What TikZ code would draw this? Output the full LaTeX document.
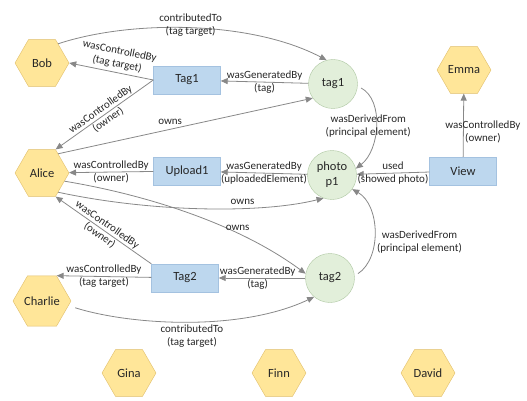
\documentclass[tikz,border=0pt]{standalone}
\usepackage{fontspec}
\setmainfont{Carlito}
\usepackage{xcolor}
\usetikzlibrary{arrows.meta,positioning,shapes.geometric}
\definecolor{agentfill}{HTML}{FFE699}
\definecolor{agentline}{HTML}{E0BE6A}
\definecolor{actfill}{HTML}{BDD7EE}
\definecolor{actline}{HTML}{A4C2E0}
\definecolor{entfill}{HTML}{E2EFDA}
\definecolor{entline}{HTML}{AEC7A2}
\definecolor{edgegray}{HTML}{888888}

\begin{document}
\begin{tikzpicture}[
				x=1pt, y=-1pt,
				agent/.style={regular polygon, regular polygon sides=6, minimum size=54pt,
					inner sep=0pt, fill=agentfill, draw=agentline, text=black!85,
					font=\fontsize{12.5}{15}\selectfont},
				box/.style={rectangle, draw=actline, fill=actfill, minimum width=67pt,
					minimum height=28pt, text=black!85, font=\fontsize{12.5}{15}\selectfont},
				entity/.style={circle, draw=entline, fill=entfill, minimum size=49pt,
					inner sep=0pt, align=center, text=black!85, font=\fontsize{12.5}{15}\selectfont},
				arrow/.style={-{Triangle[length=7pt,width=6pt]}, draw=edgegray, line width=0.8pt},
				lbl/.style={font=\fontsize{11}{13}\selectfont, align=center, text=black!85, inner sep=1pt}
				]
				\useasboundingbox (0,0) rectangle (527,401);
				\node[agent] (bob) at (42,63) {Bob};
				\node[agent] (alice) at (42,173) {Alice};
				\node[agent] (charlie) at (42,301) {Charlie};
				\node[agent] (gina) at (129,373) {Gina};
				\node[agent] (finn) at (279,373) {Finn};
				\node[agent] (david) at (428,373) {David};
				\node[agent] (emma) at (464,70) {Emma};
				\node[box] (tagact1) at (187,80) {Tag1};
				\node[box] (upload1) at (187,171) {Upload1};
				\node[box] (tagact2) at (185,278) {Tag2};
				\node[box] (view) at (463,171) {View};
				\node[entity] (tag1) at (333,84) {tag1};
				\node[entity] (p1) at (332,175) {photo\\p1};
				\node[entity] (tag2) at (330,278) {tag2};
				\draw[arrow] (bob.50) .. controls (130,20) and (250,20) .. (tag1.105)
					node[lbl, pos=0.5, yshift=2.5pt] {contributedTo\\(tag target)};
				\draw[arrow] (tagact1.west) -- (bob.east)
					node[lbl, pos=0.45, sloped, above=2pt] {wasControlledBy\\(tag target)};
				\draw[arrow] (tagact1.west) -- (alice.60)
					node[lbl, midway, sloped] {wasControlledBy\\(owner)};
				\draw[arrow] (tag1) -- (tagact1) node[lbl, midway] {wasGeneratedBy\\(tag)};
				\draw[arrow] (alice.50) -- (tag1.215) node[lbl, pos=0.44, above=3pt] {owns};
				\draw[arrow] (upload1) -- (alice) node[lbl, midway] {wasControlledBy\\(owner)};
				\draw[arrow] (p1) -- (upload1) node[lbl, midway] {wasGeneratedBy\\(uploadedElement)};
				\draw[arrow] (alice.-50) .. controls (150,212) and (260,214) .. (p1.-110)
					node[lbl, pos=0.65, above=2pt] {owns};
				\draw[arrow] (alice.-20) .. controls (130,192) and (230,218) .. (tag2.170)
					node[lbl, pos=0.72, above=2pt] {owns};
				\draw[arrow] (tagact2.north west) -- (alice.-60)
					node[lbl, midway, sloped] {wasControlledBy\\(owner)};
				\draw[arrow] (tagact2) -- (charlie.60) node[lbl, midway] {wasControlledBy\\(tag target)};
				\draw[arrow] (tag2) -- (tagact2) node[lbl, pos=0.55] {wasGeneratedBy\\(tag)};
				\draw[arrow, shorten <=7pt] (charlie.-10) .. controls (130,325) and (240,332) .. (tag2.-130)
					node[lbl, pos=0.52, below=2pt] {contributedTo\\(tag target)};
				\draw[arrow, shorten <=4pt] (tag1.-5) .. controls (384,100) and (380,150) .. (p1.15)
					node[lbl, pos=0.5, xshift=-7.5pt] {wasDerivedFrom\\(principal element)};
				\draw[arrow, shorten <=4pt] (tag2.5) .. controls (382,258) and (380,205) .. (p1.-35)
					node[lbl, pos=0.4, right=2pt] {wasDerivedFrom\\(principal element)};
				\draw[arrow] (view) -- (p1) node[lbl, midway] {used\\(showed photo)};
				\draw[arrow] (view) -- (emma) node[lbl, pos=0.4, xshift=19.5pt] {wasControlledBy\\(owner)};
			\end{tikzpicture}
\end{document}
